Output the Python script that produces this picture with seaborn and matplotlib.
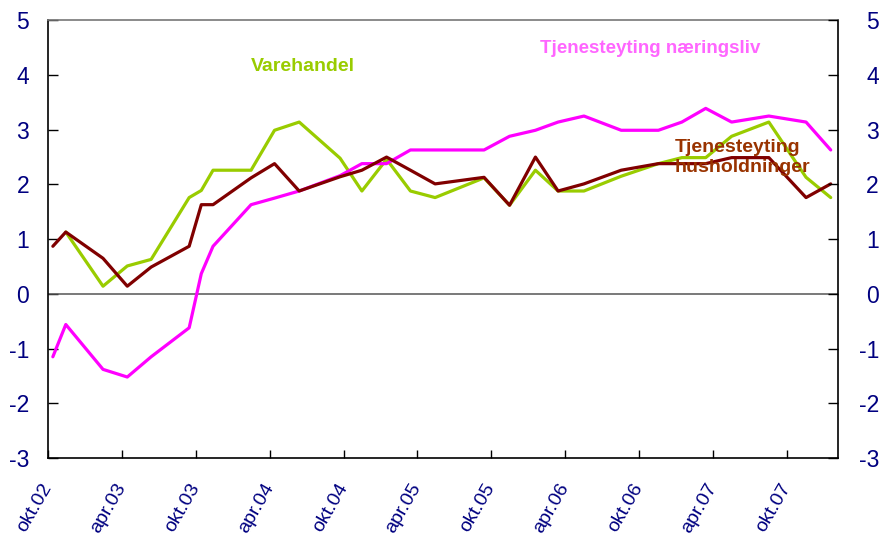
import numpy as np
import pandas as pd
import matplotlib
matplotlib.use("Agg")
import matplotlib.pyplot as plt
import seaborn as sns

dates = ["2002-10-13", "2002-11-14", "2003-02-14", "2003-04-15", "2003-06-13",
         "2003-09-15", "2003-10-15", "2003-11-13", "2004-02-15", "2004-04-13",
         "2004-06-13", "2004-09-22", "2004-11-15", "2005-01-15", "2005-03-15",
         "2005-05-15", "2005-09-13", "2005-11-15", "2006-01-18", "2006-03-15",
         "2006-05-18", "2006-08-18", "2006-11-18", "2007-01-15", "2007-03-15",
         "2007-05-18", "2007-08-18", "2007-11-18", "2008-01-18"]

naeringsliv = [-1.15, -0.56, -1.38, -1.52, -1.15, -0.62, 0.37, 0.87, 1.63, 1.75,
               1.88, 2.16, 2.38, 2.38, 2.63, 2.63, 2.63, 2.88, 2.99, 3.14,
               3.25, 2.99, 2.99, 3.14, 3.39, 3.14, 3.25, 3.14, 2.63]

husholdninger = [0.87, 1.13, 0.65, 0.14, 0.49, 0.87, 1.63, 1.63, 2.12, 2.38,
                 1.88, 2.14, 2.26, 2.50, 2.26, 2.01, 2.13, 1.62, 2.50, 1.88,
                 2.01, 2.26, 2.38, 2.38, 2.38, 2.49, 2.49, 1.76, 2.01]

varehandel = [np.nan, 1.13, 0.14, 0.51, 0.63, 1.76, 1.89, 2.26, 2.26, 2.99,
              3.14, 2.48, 1.88, 2.46, 1.88, 1.76, 2.12, 1.62, 2.26, 1.88,
              1.88, 2.15, 2.38, 2.49, 2.49, 2.88, 3.14, 2.13, 1.76]

tick_dates = ["2002-10-01", "2003-04-01", "2003-10-01", "2004-04-01", "2004-10-01",
              "2005-04-01", "2005-10-01", "2006-04-01", "2006-10-01", "2007-04-01",
              "2007-10-01"]
tick_labels = ["okt.02", "apr.03", "okt.03", "apr.04", "okt.04", "apr.05",
               "okt.05", "apr.06", "okt.06", "apr.07", "okt.07"]
y_ticks = [-3, -2, -1, 0, 1, 2, 3, 4, 5]

series_names = ["Varehandel", "Tjenesteyting næringsliv", "Tjenesteyting husholdninger"]
line_colors = {"Varehandel": "#99CC00",
               "Tjenesteyting næringsliv": "#FF00FF",
               "Tjenesteyting husholdninger": "#800000"}

df = pd.DataFrame({
    "date": pd.to_datetime(dates * 3),
    "value": varehandel + naeringsliv + husholdninger,
    "series": np.repeat(series_names, len(dates)),
})

sns.set_theme(style="white")
plt.rcParams["font.family"] = ["Liberation Sans", "DejaVu Sans"]

fig = plt.figure(figsize=(8.84, 5.38), dpi=100)
ax = fig.add_axes([48 / 884, 1 - 458 / 538, (838 - 48) / 884, (458 - 20.3) / 538])

sns.lineplot(data=df.dropna(), x="date", y="value", hue="series",
             hue_order=series_names, palette=line_colors, linewidth=2.3,
             legend=False, ax=ax, estimator=None, sort=False)

ax.axhline(0, color="#555555", linewidth=1.1, zorder=1)

ax.set_xlim(pd.Timestamp("2002-10-01"), pd.Timestamp("2008-02-05"))
ax.set_ylim(-3, 5)
ax.set_yticks(y_ticks)
ax.set_yticklabels([str(v) for v in y_ticks])
ax.set_xticks(pd.to_datetime(tick_dates))
ax.set_xticklabels(tick_labels, rotation=60, ha="right", va="center",
                   rotation_mode="anchor")
ax.set_xlabel("")
ax.set_ylabel("")

navy = "#000080"
ax.tick_params(axis="y", direction="in", length=7, width=1, color="black",
               labelsize=16.5, labelcolor=navy, pad=13.5, left=True)
ax.tick_params(axis="x", direction="in", length=6, width=1, color="black",
               labelsize=14, labelcolor=navy, pad=19, bottom=True)

for side in ["left", "right", "bottom"]:
    ax.spines[side].set_color("black")
    ax.spines[side].set_linewidth(1.2)
ax.spines["top"].set_color("#777777")
ax.spines["top"].set_linewidth(1.2)

ax2 = ax.twinx()
ax2.set_ylim(-3, 5)
ax2.set_yticks(y_ticks)
ax2.set_yticklabels([str(v) for v in y_ticks], ha="right")
ax2.tick_params(axis="y", direction="in", length=7, width=1, color="black",
                labelsize=16.5, labelcolor=navy, pad=29.5)
for s in ax2.spines.values():
    s.set_visible(False)
ax2.grid(False)
ax.grid(False)

ax.text(pd.Timestamp("2004-06-22"), 4.16, "Varehandel", color="#99CC00",
        fontsize=14, fontweight="bold", ha="center", va="center")
ax.text(pd.Timestamp("2006-10-28"), 4.48, "Tjenesteyting næringsliv", color="#FF66FF",
        fontsize=13.5, fontweight="bold", ha="center", va="center")
ax.text(pd.Timestamp("2006-12-28"), 2.49, "Tjenesteyting\nhusholdninger", color="#993300",
        fontsize=14, fontweight="bold", ha="left", va="center", linespacing=1.25,
        zorder=10)

fig.savefig("out.png", dpi=100)
